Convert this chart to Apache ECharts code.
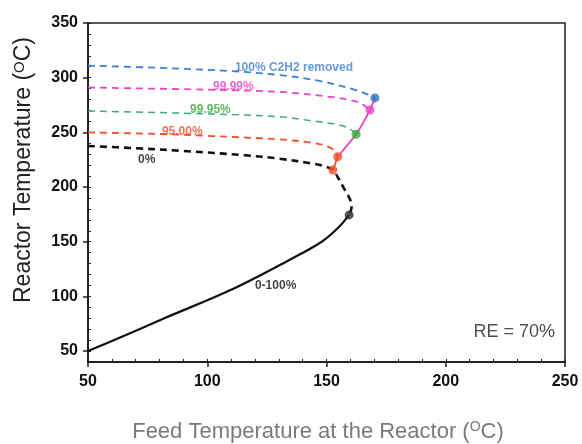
<!DOCTYPE html>
<html><head><meta charset="utf-8">
<script src="https://cdn.jsdelivr.net/npm/echarts@6/dist/echarts.min.js"></script>
<style>html,body{margin:0;padding:0;background:#fff}#c{width:582px;height:444px}</style>
</head><body><div id="c"></div>
<script>
// ---- data (x = feed temperature, y = reactor temperature) ----
const xTicks = [50, 100, 150, 200, 250];
const yTicks = [50, 100, 150, 200, 250, 300, 350];
const curve0to100 = [[50,50],[62,61],[82,80],[110,106],[135,134],[148,150],[155,163],[159.5,174.5]];
const curve0 = [[50,237.5],[70,235.5],[90,233],[116,229],[130,226],[144,221.5],[150,218.5],[152.7,215.5],[155,208],[157.5,198],[160,188],[160.5,181],[159.5,174.5]];
const curve95 = [[50,250],[80,248.5],[102,246.6],[130,243.6],[144,240.5],[150,237.5],[153.5,233],[154.7,227.7]];
const curve9995 = [[50,269.5],[90,267.5],[130,264.3],[144,260.5],[155.7,256.5],[160,253],[162.4,248.2]];
const curve9999 = [[50,291],[100,289],[130,287],[151.5,282.5],[160,279.5],[164,277],[168.2,270.4]];
const curve100 = [[50,311],[80,309],[110,306],[130,302.5],[147,297],[161,289.5],[167,285],[170.3,281.5]];
const connectRed = [[152.7,215.5],[154.7,227.7]];
const connectPink = [[154.7,227.7],[162.4,248.2],[168.2,270.4],[170.3,281.5]];
const dots = [[159.5,174.5],[152.7,215.5],[154.7,227.7],[162.4,248.2],[168.2,270.4],[170.3,281.5]];
const dotColors = ['#2b2b33','#f0502c','#f0502c','#3aa83a','#e844c4','#2f6fc4'];
const labelTexts = ['100% C2H2 removed','99.99%','99.95%','95.00%','0%','0-100%','RE = 70%'];
const labelPos = [[111.6,308.8],[102.4,291.4],[92.8,270.4],[81,250.3],[71,224.7],[120,109.4],[245.8,67.3]];
const labelColors = ['#3d7fd6','#e844c4','#3aa83a','#f0502c','#111','#111','#222'];

const chart = echarts.init(document.getElementById('c'), null, {renderer:'canvas'});
const FONT = 'Liberation Sans, Arial, sans-serif';

function lineSeries(data, color, dashed, width) {
  return {type:'line', data, xAxisIndex:0, yAxisIndex:0, symbol:'none', smooth:0.35, z:3,
    lineStyle:{color, width, type: dashed ? [7,5] : 'solid'}, silent:true, animation:false};
}

const labelData = labelTexts.map((t,i)=>({
  value: labelPos[i],
  label:{show:true, formatter:t, position:'inside',
    align: i===6 ? 'right' : 'left', verticalAlign:'middle',
    color: labelColors[i], fontFamily:FONT,
    fontSize: i===6 ? 18 : 12, fontWeight: i===6 ? 'normal' : 'bold'}
}));

chart.setOption({
  animation:false,
  grid:{left:88, right:17, top:23, bottom:82, show:true, borderColor:'#222', borderWidth:1.5},
  xAxis:[
    {type:'value', min:50, max:250, interval:50,
     axisLine:{show:true, lineStyle:{color:'#222', width:2}},
     axisTick:{show:true, length:5, lineStyle:{color:'#222', width:1.5}},
     axisLabel:{color:'#111', fontSize:16, fontWeight:'bold', fontFamily:FONT, margin:12,
       customValues: xTicks},
     splitLine:{show:false}},
    {type:'value', min:50, max:250, interval:10, position:'bottom',
     axisLine:{show:false}, axisLabel:{show:false}, splitLine:{show:false},
     axisTick:{show:true, inside:true, length:3, lineStyle:{color:'#222', width:1}}}
  ],
  yAxis:[
    {type:'value', min:40, max:350,
     axisLine:{show:true, lineStyle:{color:'#222', width:2}},
     axisTick:{show:true, length:5, customValues: yTicks, lineStyle:{color:'#222', width:1.5}},
     axisLabel:{color:'#111', fontSize:16, fontWeight:'bold', fontFamily:FONT, margin:10,
       customValues: yTicks},
     splitLine:{show:false}},
    {type:'value', min:40, max:350, interval:10, position:'left',
     axisLine:{show:false}, axisLabel:{show:false}, splitLine:{show:false},
     axisTick:{show:true, inside:true, length:3, lineStyle:{color:'#222', width:1}}}
  ],
  graphic:[
    {type:'text', x:24, y:170, rotation:Math.PI/2, z:10,
     style:{text:'{n|Reactor Temperature (}{s|O}{n|C)}', align:'center', verticalAlign:'middle',
       rich:{n:{fontSize:23, fontFamily:FONT, fill:'#222', color:'#222'},
             s:{fontSize:15, fontFamily:FONT, fill:'#222', color:'#222', verticalAlign:'top', padding:[0,0,9,0]}}}},
    {type:'text', x:318, y:432, z:10,
     style:{text:'{n|Feed Temperature at the Reactor (}{s|O}{n|C)}', align:'center', verticalAlign:'middle',
       rich:{n:{fontSize:22, fontFamily:FONT, fill:'#7a7a7a', color:'#7a7a7a'},
             s:{fontSize:14, fontFamily:FONT, fill:'#7a7a7a', color:'#7a7a7a', verticalAlign:'top', padding:[0,0,9,0]}}}}
  ],
  series:[
    lineSeries(curve0to100, '#111', false, 2.2),
    lineSeries(curve0, '#111', true, 2.6),
    lineSeries(curve95, '#f0502c', true, 1.8),
    lineSeries(curve9995, '#3aa88a', true, 1.5),
    lineSeries(curve9999, '#e844c4', true, 1.8),
    lineSeries(curve100, '#3d7fd6', true, 1.8),
    Object.assign(lineSeries(connectRed, '#f0502c', false, 1.8), {smooth:false}),
    Object.assign(lineSeries(connectPink, '#e844c4', false, 1.8), {smooth:0.2}),
    {type:'scatter', data: dots.map((d,i)=>({value:d, itemStyle:{color:dotColors[i]}})),
     symbolSize:9, z:5, silent:true},
    {type:'scatter', data: labelData, symbolSize:0, z:6, silent:true}
  ]
});
</script></body></html>
